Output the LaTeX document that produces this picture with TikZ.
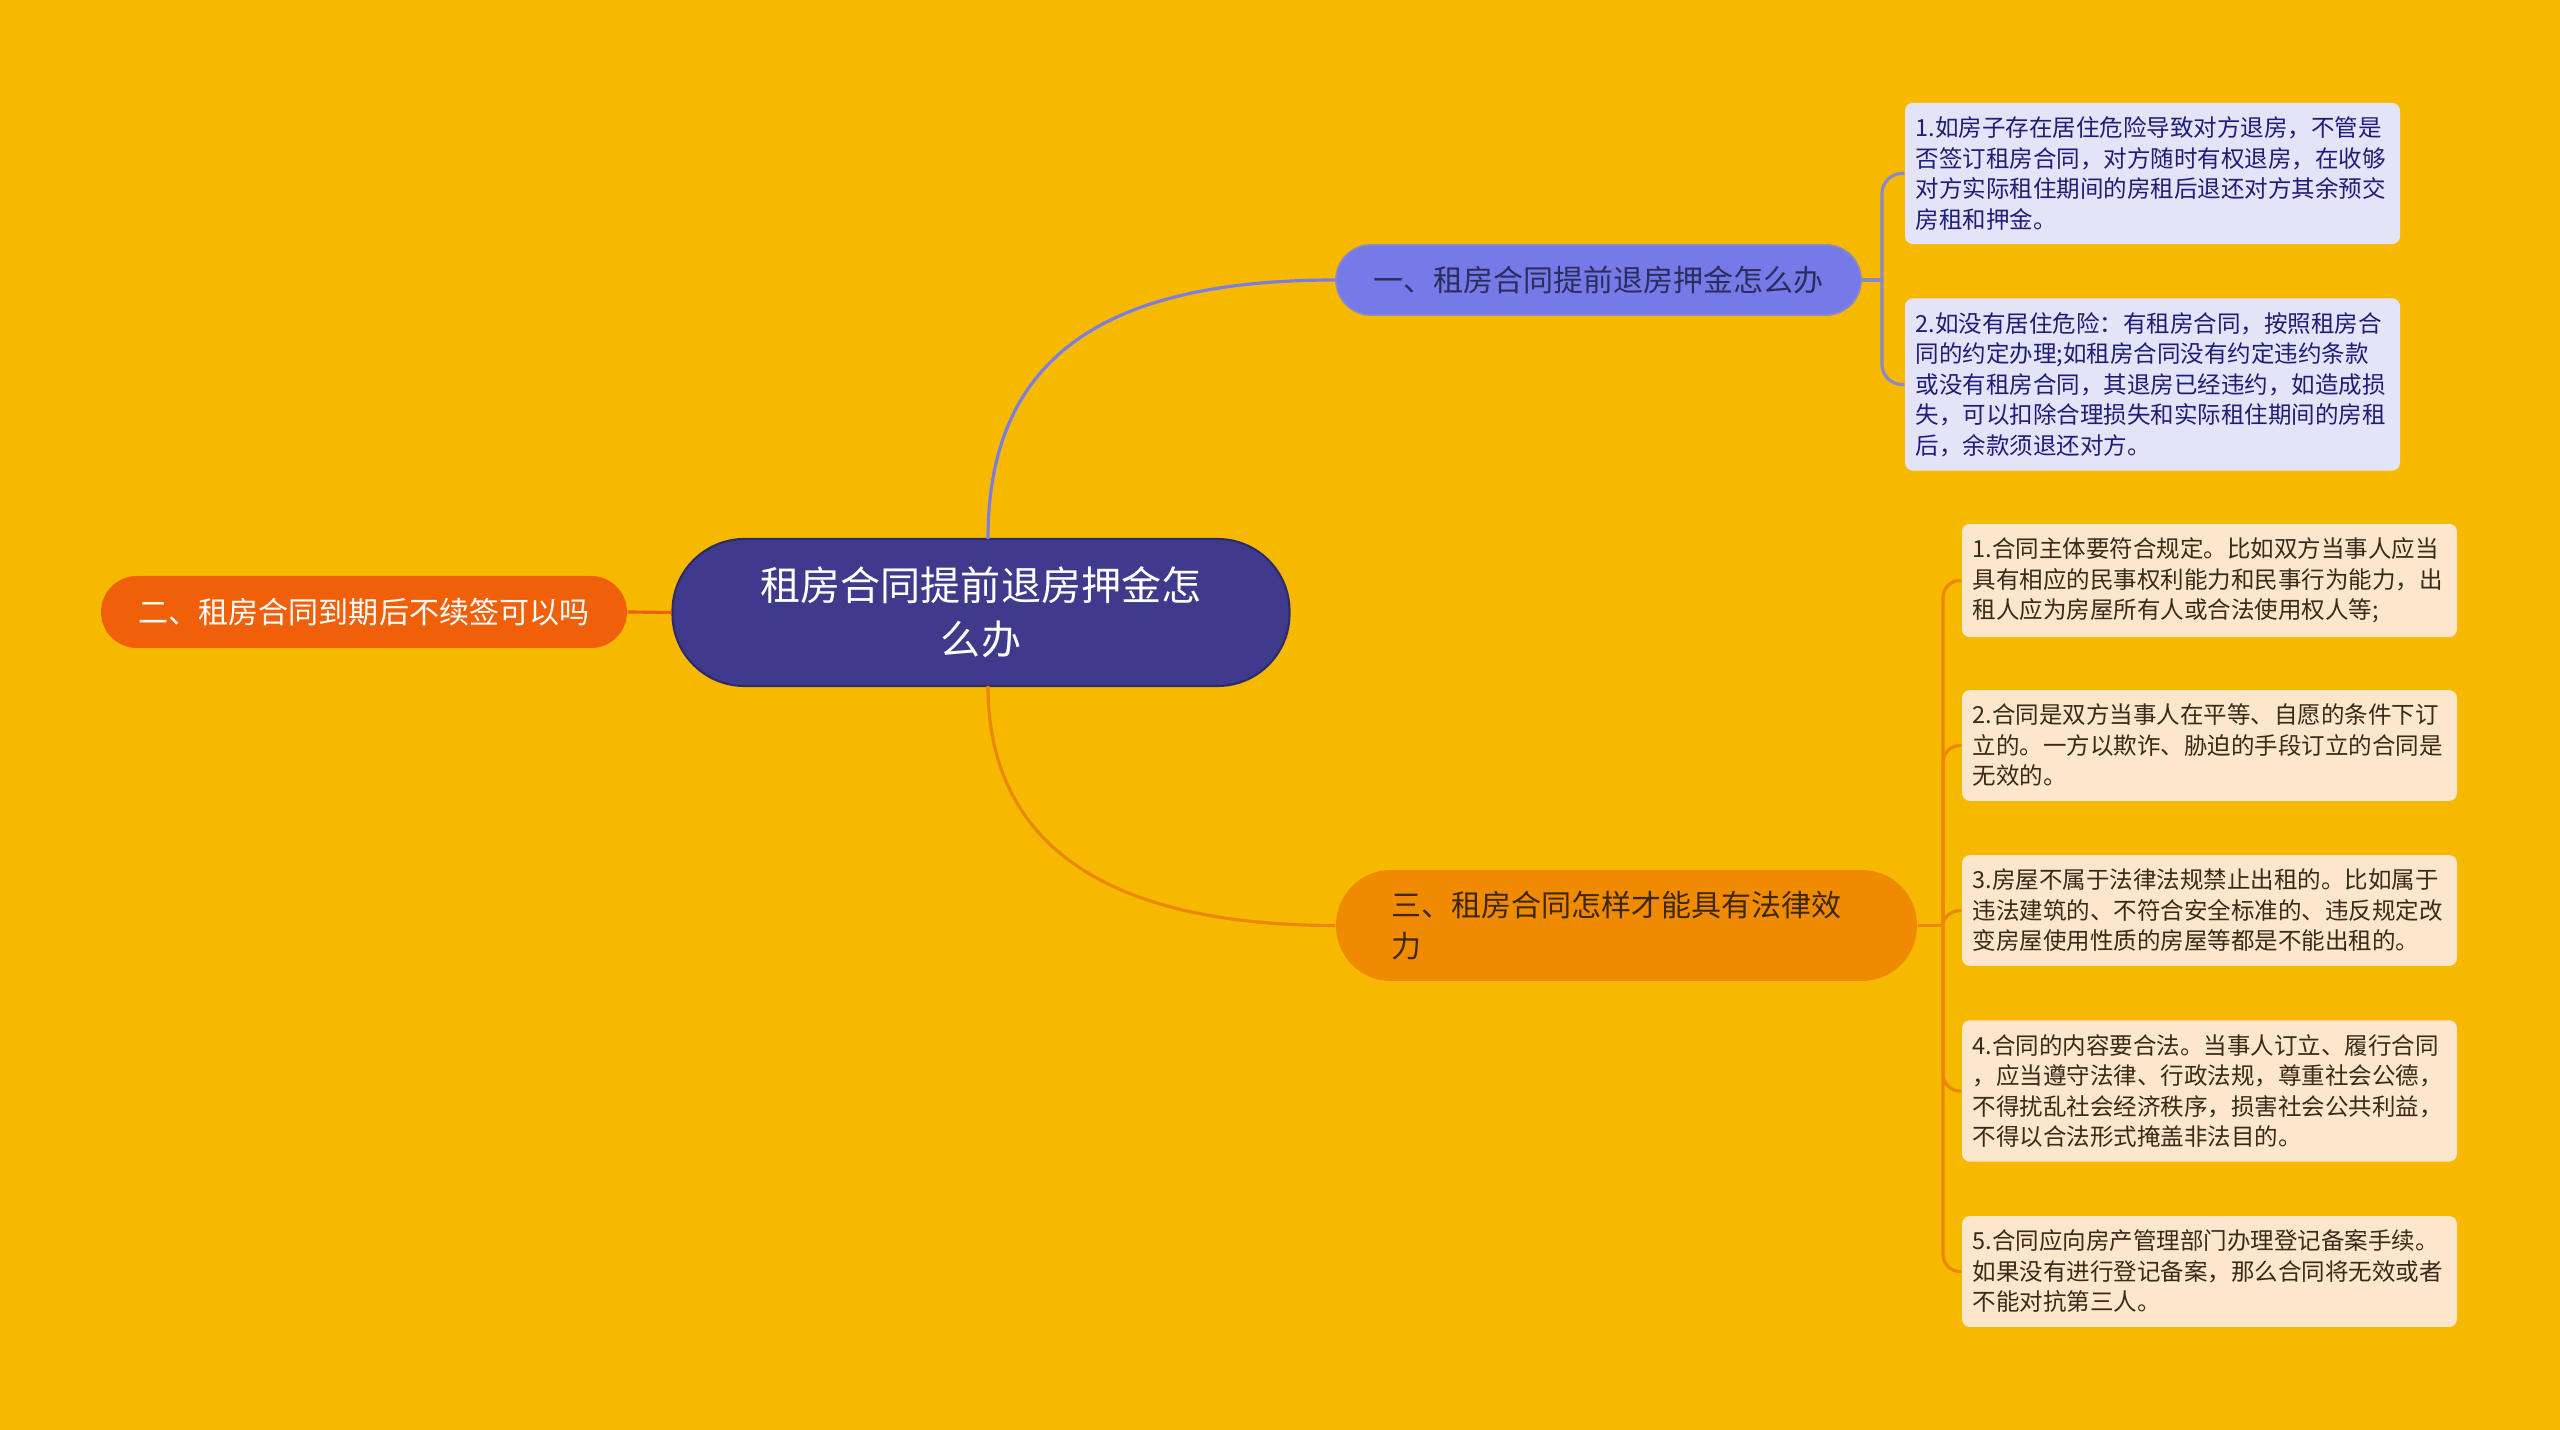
\documentclass[tikz,border=0pt]{standalone}
\usepackage{fontspec}
\setmainfont{Noto Sans CJK SC}
\definecolor{bgyel}{HTML}{F6B900}
\definecolor{rootblue}{HTML}{3E3A8C}
\definecolor{rootedge}{HTML}{2F2B6A}
\definecolor{onefill}{HTML}{7679E8}
\definecolor{oneline}{HTML}{7B7DE2}
\definecolor{onebrace}{HTML}{8B88C8}
\definecolor{onetext}{HTML}{2B2D5C}
\definecolor{twofill}{HTML}{F0600A}
\definecolor{threefill}{HTML}{F08A00}
\definecolor{threeline}{HTML}{EC8708}
\definecolor{threetext}{HTML}{3D2800}
\definecolor{lilac}{HTML}{E4E4F8}
\definecolor{navytext}{HTML}{1E1E78}
\definecolor{peach}{HTML}{FDE7CC}
\definecolor{browntext}{HTML}{3A2A1A}

\begin{document}
\begin{tikzpicture}[
    rootnode/.style={shape=rectangle, rounded corners=0.72cm, fill=rootblue, draw=rootedge, line width=0.6pt, text=white, minimum width=6.17cm, minimum height=1.47cm, align=center, font=\fontsize{11.4}{15.4}\selectfont},
    topic/.style={shape=rectangle, inner sep=0pt, font=\fontsize{8.54}{11.67}\selectfont},
    leaf/.style={shape=rectangle, rounded corners=0.08cm, text width=4.74cm, inner xsep=0.105cm, inner ysep=0.14cm, align=left, font=\fontsize{6.69}{8.68}\selectfont},
    link/.style={line width=0.9pt}
]
    \fill[bgyel] (0,0) rectangle (25.6,-14.3);
    \useasboundingbox (0,0) rectangle (25.6,-14.3);

    \node[rootnode] (root) at (9.81,-6.125) {租房合同提前退房押金怎\\么办};
    \node[topic, rounded corners=0.35cm, fill=onefill, draw=onebrace, line width=0.5pt, text=onetext, minimum width=5.25cm, minimum height=0.70cm] (one) at (15.985,-2.80) {一、租房合同提前退房押金怎么办};
    \node[topic, rounded corners=0.36cm, fill=twofill, text=white, minimum width=5.26cm, minimum height=0.72cm] (two) at (3.64,-6.12) {二、租房合同到期后不续签可以吗};
    \node[topic, rounded corners=0.55cm, fill=threefill, text=threetext, text width=4.71cm, align=left, minimum width=5.81cm, minimum height=1.11cm] (three) at (16.265,-9.255) {三、租房合同怎样才能具有法律效\\力};

    \node[leaf, fill=lilac, text=navytext] (a1) at (21.525,-1.735) {1.如房子存在居住危险导致对方退房，不管是\\否签订租房合同，对方随时有权退房，在收够\\对方实际租住期间的房租后退还对方其余预交\\房租和押金。};
    \node[leaf, fill=lilac, text=navytext] (a2) at (21.525,-3.845) {2.如没有居住危险：有租房合同，按照租房合\\同的约定办理;如租房合同没有约定违约条款\\或没有租房合同，其退房已经违约，如造成损\\失，可以扣除合理损失和实际租住期间的房租\\后，余款须退还对方。};

    \node[leaf, fill=peach, text=browntext] (c1) at (22.095,-5.805) {1.合同主体要符合规定。比如双方当事人应当\\具有相应的民事权利能力和民事行为能力，出\\租人应为房屋所有人或合法使用权人等;};
    \node[leaf, fill=peach, text=browntext] (c2) at (22.095,-7.455) {2.合同是双方当事人在平等、自愿的条件下订\\立的。一方以欺诈、胁迫的手段订立的合同是\\无效的。};
    \node[leaf, fill=peach, text=browntext] (c3) at (22.095,-9.105) {3.房屋不属于法律法规禁止出租的。比如属于\\违法建筑的、不符合安全标准的、违反规定改\\变房屋使用性质的房屋等都是不能出租的。};
    \node[leaf, fill=peach, text=browntext] (c4) at (22.095,-10.91) {4.合同的内容要合法。当事人订立、履行合同\\，应当遵守法律、行政法规，尊重社会公德，\\不得扰乱社会经济秩序，损害社会公共利益，\\不得以合法形式掩盖非法目的。};
    \node[leaf, fill=peach, text=browntext] (c5) at (22.095,-12.715) {5.合同应向房产管理部门办理登记备案手续。\\如果没有进行登记备案，那么合同将无效或者\\不能对抗第三人。};

    \coordinate (rtop) at (9.88,-5.39);
    \coordinate (rbot) at (9.88,-6.86);
    \coordinate (j1) at (18.82,-2.80);
    \coordinate (j3) at (19.43,-9.255);

    \draw[link, oneline] (rtop) .. controls (9.88,-3.60) and (11.0,-2.80) .. (one.west);
    \draw[link, threeline] (rbot) .. controls (9.88,-8.40) and (11.0,-9.255) .. (three.west);
    \draw[link, twofill] (root.west) -- (two.east);

    \draw[link, onebrace] (one.east) -- (j1);
    \draw[link, onebrace, rounded corners=0.2cm] (j1) |- (a1.west);
    \draw[link, onebrace, rounded corners=0.2cm] (j1) |- (a2.west);

    \draw[link, threeline] (three.east) -- (j3);
    \draw[link, threeline, rounded corners=0.17cm] (j3) |- (c1.west);
    \draw[link, threeline, rounded corners=0.17cm] (j3) |- (c2.west);
    \draw[link, threeline] (j3) to[out=90, in=180] (c3.west);
    \draw[link, threeline, rounded corners=0.17cm] (j3) |- (c4.west);
    \draw[link, threeline, rounded corners=0.17cm] (j3) |- (c5.west);

\end{tikzpicture}
\end{document}
